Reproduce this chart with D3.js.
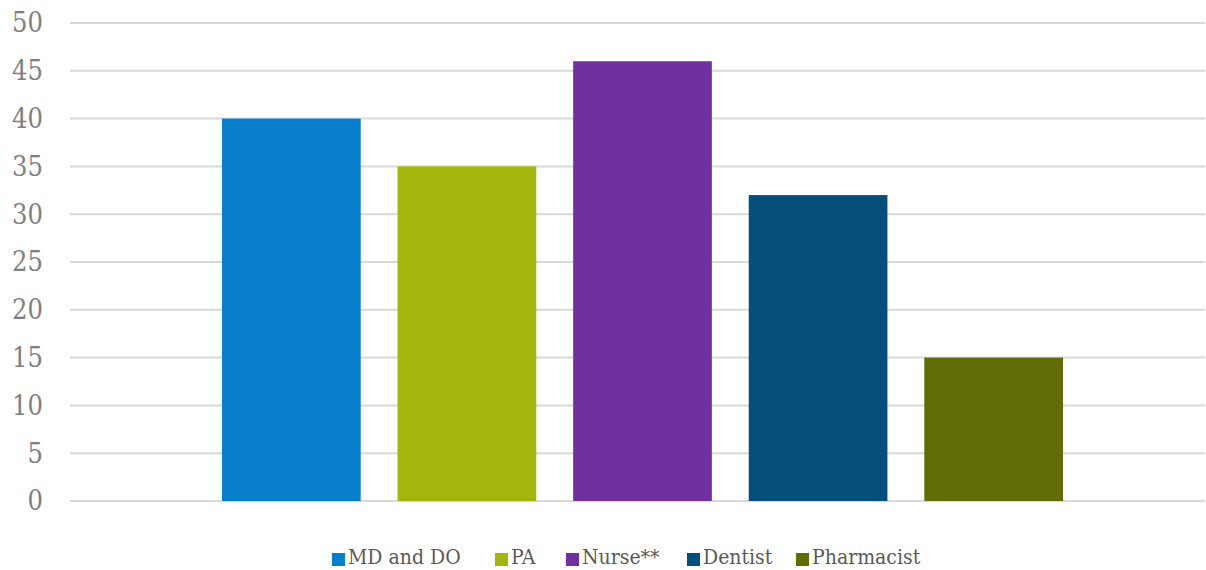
<!DOCTYPE html>
<html>
<head>
<meta charset="utf-8">
<script src="https://cdn.jsdelivr.net/npm/d3@7"></script>
<style>
    body { margin: 0; background: #fff; }
</style>
</head>
<body>
<div id="chart"></div>
<script>
// chart values
const series = ["MD and DO", "PA", "Nurse**", "Dentist", "Pharmacist"];
const values = [40, 35, 46, 32, 15];
const colors = ["#077fcb", "#a3b60e", "#7030a0", "#064f7a", "#626c06"];
const yTicks = [0, 5, 10, 15, 20, 25, 30, 35, 40, 45, 50];

const width = 1206, height = 570;
const plot = {left: 70, right: 1205, top: 23, bottom: 501};
const font = "'DejaVu Serif Condensed', 'DejaVu Serif', serif";

let svg = d3.select("#chart")
    .append("svg")
    .attr("width", width)
    .attr("height", height)
    .style("font-family", font)

let y = d3.scaleLinear()
    .domain([0, 50])
    .range([plot.bottom, plot.top])

// one category, five series side by side
let x = d3.scaleBand()
    .domain(series)
    .range([plot.left + 152, plot.right - 142])
    .paddingInner(0.21)
    .paddingOuter(0)

// gridlines
svg.append("g")
    .selectAll("line")
    .data(yTicks)
    .join("line")
    .attr("x1", plot.left)
    .attr("x2", plot.right)
    .attr("y1", d => y(d))
    .attr("y2", d => y(d))
    .attr("stroke", "#d9d9d9")
    .attr("stroke-width", 2)

// y labels
svg.append("g")
    .selectAll("text")
    .data(yTicks)
    .join("text")
    .attr("x", 43)
    .attr("y", d => y(d))
    .attr("dy", "0.35em")
    .attr("text-anchor", "end")
    .attr("font-size", 27)
    .attr("fill", "#7f7f7f")
    .text(d => d)

// bars
svg.append("g")
    .selectAll("rect")
    .data(values)
    .join("rect")
    .attr("x", (d, i) => x(series[i]))
    .attr("width", x.bandwidth())
    .attr("y", d => y(d))
    .attr("height", d => y(0) - y(d))
    .attr("fill", (d, i) => colors[i])

// legend, square positions
const legendX = [332, 495, 566, 687, 796];
let legend = svg.append("g").attr("transform", "translate(0,558)")
series.forEach(function (s, i) {
    let g = legend.append("g").attr("transform", "translate(" + legendX[i] + ",0)")
    g.append("rect")
        .attr("x", 0)
        .attr("y", -5)
        .attr("width", 13)
        .attr("height", 13)
        .attr("fill", colors[i])
    g.append("text")
        .attr("x", 16)
        .attr("y", 6)
        .attr("font-size", 21)
        .attr("fill", "#595959")
        .text(s)
})
</script>
</body>
</html>
